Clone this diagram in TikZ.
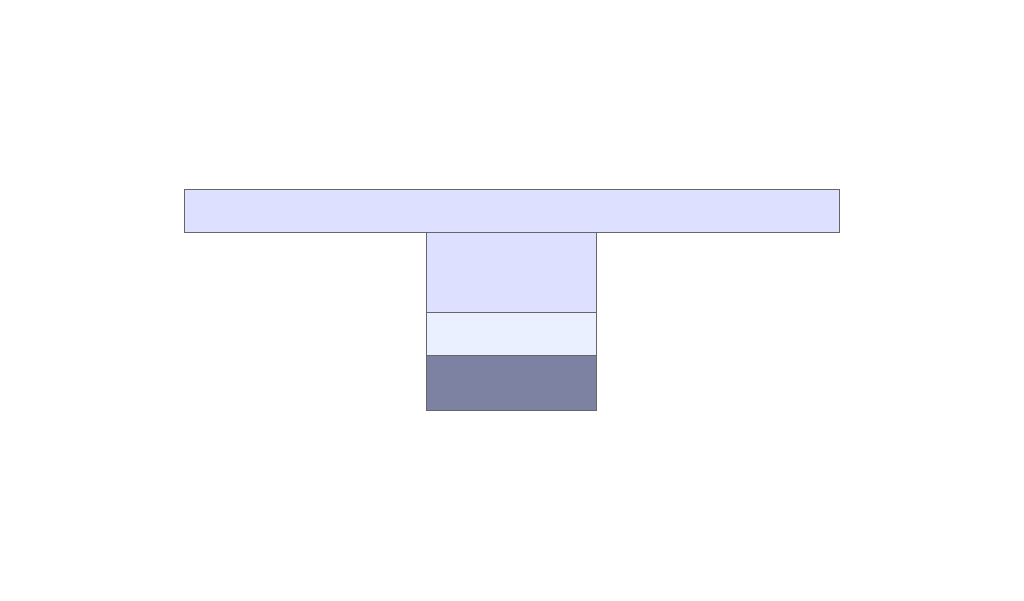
\documentclass[tikz,border=0pt]{standalone}
\usepackage[x11names]{xcolor}
\usetikzlibrary{positioning}

\definecolor{barblue}{HTML}{DDE1FF}
\definecolor{paleblue}{HTML}{EAF0FF}
\definecolor{slateblue}{HTML}{7E82A2}

\begin{document}
\begin{tikzpicture}[
block/.style={draw=gray!80!black,line width=0.4pt,rectangle,inner sep=0pt,outer sep=0pt,anchor=north},
nodes={align=center}]

\useasboundingbox (0,0) rectangle (25.6,-15);

% Top bar
\node[block,fill=barblue,minimum width=16.375cm,minimum height=1.075cm] (bar) at (12.7875,-4.725) {};

% Column below the bar
\node[block,fill=barblue,minimum width=4.25cm,minimum height=2cm,below=0pt of bar.south] (upper) {};
\node[block,fill=paleblue,minimum width=4.25cm,minimum height=1.075cm,below=0pt of upper] (middle) {};
\node[block,fill=slateblue,minimum width=4.25cm,minimum height=1.375cm,below=0pt of middle] (lower) {};

\end{tikzpicture}
\end{document}
